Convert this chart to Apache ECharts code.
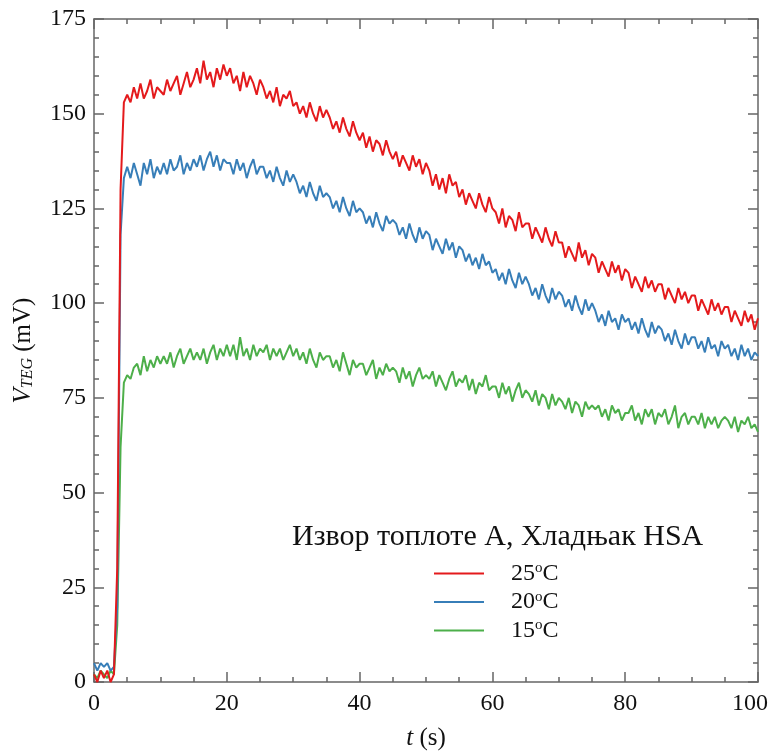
<!DOCTYPE html>
<html>
<head>
<meta charset="utf-8">
<script src="https://cdn.jsdelivr.net/npm/echarts@6/dist/echarts.min.js"></script>
<style>html,body{margin:0;padding:0;background:#fff;}#c{width:773px;height:754px;}</style>
</head>
<body>
<div id="c"></div>
<script>
// sampling step of the recorded series (s)
const sampleStep = 0.5;
const xTicks = [0, 20, 40, 60, 80, 100];
const yTicks = [0, 25, 50, 75, 100, 125, 150, 175];
const seriesNames = ['25', '20', '15'];
const legendTitle = 'Извор топлоте А, Хладњак HSA';

const red25 = [
  2,0,3,1,3,0,2,
  30,130,153,
  155,153,157,154,158,154,156,159,154,157,156,
  155,159,156,158,160,155,158,161,157,159,
  162,158,164,159,161,157,162,159,163,160,
  162,158,160,156,161,157,160,158,155,159,
  157,154,156,153,157,152,155,154,156,152,
  153,150,152,149,153,150,148,152,149,151,
  149,146,148,145,149,146,144,148,145,143,
  145,141,144,140,143,142,139,143,140,138,
  140,136,139,137,135,139,136,138,134,137,
  135,131,134,130,133,129,134,131,132,128,
  130,126,129,127,125,129,126,124,128,125,
  124,121,125,120,123,122,119,124,120,121,
  121,117,120,118,116,120,117,115,119,116,
  116,112,115,113,111,116,112,114,110,113,
  112,108,111,109,107,111,108,110,106,109,
  108,104,107,105,103,107,104,106,103,105,
  105,101,104,102,100,104,101,103,100,102,
  102,98,101,99,97,101,98,100,97,99,
  99,95,98,96,94,98,95,97,93,96
];
const blue20 = [
  5,3,5,4,5,3,4,
  20,118,133,
  136,133,137,134,131,137,134,138,133,136,134,
  137,134,138,135,136,139,134,137,135,138,
  136,139,135,138,140,136,139,135,138,137,
  137,134,138,135,137,133,136,138,134,136,
  136,133,135,132,136,133,131,135,132,134,
  132,129,131,128,132,129,127,131,128,129,
  128,125,127,124,128,125,123,127,124,125,
  124,121,123,120,124,121,119,123,121,122,
  121,118,120,117,121,118,116,120,117,119,
  118,114,117,115,113,117,114,116,112,115,
  114,111,113,110,112,109,113,110,111,108,
  109,106,108,105,109,106,104,108,105,107,
  105,102,104,101,105,102,100,104,101,103,
  102,99,101,98,102,99,97,101,98,100,
  98,95,97,94,98,95,96,93,97,95,
  96,93,95,92,96,93,91,95,92,94,
  93,90,92,89,93,90,88,92,89,91,
  91,88,90,87,91,88,89,86,90,88,
  89,86,88,85,89,86,88,85,87,86
];
const green15 = [
  2,1,3,2,1,3,2,
  15,62,79,
  81,80,83,84,81,86,82,85,83,86,84,
  86,84,87,83,86,88,84,86,88,85,
  87,85,88,84,87,89,85,88,86,89,
  86,89,85,91,86,88,85,89,86,88,
  87,89,85,88,86,88,85,87,89,86,
  88,85,87,84,88,85,83,87,85,86,
  86,83,85,82,87,84,81,85,83,84,
  84,81,83,85,80,83,81,84,82,83,
  82,79,83,80,82,78,81,83,80,81,
  80,82,78,81,79,77,80,82,78,80,
  79,81,77,80,76,79,78,81,77,78,
  78,75,79,76,78,74,77,79,75,77,
  76,74,77,73,76,75,72,76,73,75,
  74,72,75,71,74,73,70,74,72,73,
  72,73,70,72,69,73,71,72,69,71,
  71,73,69,71,68,72,70,72,68,71,
  70,72,68,70,73,67,70,71,68,70,
  70,68,71,67,70,68,70,67,69,70,
  69,67,70,66,69,68,70,67,68,66
];

function pairs(vals) { return vals.map((v, i) => [i * sampleStep, v]); }

const FONT = '"Liberation Serif", "DejaVu Serif", serif';
const colors = ['#e41a1c', '#377eb8', '#4daf4a'];
const axisCol = '#666';

const chart = echarts.init(document.getElementById('c'), null, {renderer: 'canvas'});

function baseAxis(extra) {
  return Object.assign({
    type: 'value',
    axisLine: {show: true, onZero: false, lineStyle: {color: axisCol, width: 1.5}},
    axisTick: {show: true, inside: true, length: 10, lineStyle: {color: axisCol, width: 1.5}},
    splitLine: {show: false},
    minorSplitLine: {show: false}
  }, extra);
}

const xMin = xTicks[0], xMax = xTicks[xTicks.length - 1], xInt = xTicks[1] - xTicks[0];
const yMin = yTicks[0], yMax = yTicks[yTicks.length - 1], yInt = yTicks[1] - yTicks[0];

chart.setOption({
  animation: false,
  backgroundColor: '#fff',
  grid: {left: 94, right: 15, top: 19, bottom: 72, outerBoundsMode: 'none', containLabel: false},
  title: {
    text: legendTitle,
    left: 287, top: 517,
    textStyle: {fontFamily: FONT, fontSize: 30, fontWeight: 'normal', color: '#111'}
  },
  legend: {
    orient: 'vertical',
    left: 429, top: 556,
    itemWidth: 50, itemHeight: 2,
    itemGap: 4,
    icon: 'rect',
    data: seriesNames.map(n => n),
    formatter: n => '{n|' + n + '}{s|o}{n|C}',
    textStyle: {
      fontFamily: FONT, fontSize: 24, color: '#111', padding: [0, 0, 0, 22],
      rich: {
        n: {fontFamily: FONT, fontSize: 24, color: '#111'},
        s: {fontFamily: FONT, fontSize: 15, color: '#111', verticalAlign: 'top', padding: [0, 0, 10, 0]}
      }
    }
  },
  xAxis: [
    baseAxis({
      min: xMin, max: xMax, interval: xInt,
      minorTick: {show: true, splitNumber: 4, length: 5, lineStyle: {color: axisCol, width: 1.5}},
      axisLabel: {
        fontFamily: FONT, fontSize: 24, color: '#111', margin: 10,
        formatter: v => v === xMax ? '{r|' + v + '}' : String(v),
        rich: {r: {fontFamily: FONT, fontSize: 24, color: '#111', padding: [0, 16, 0, 0]}}
      },
      name: '{i|t}{n| (s)}',
      nameLocation: 'middle', nameGap: 44,
      nameTextStyle: {
        rich: {
          i: {fontFamily: FONT, fontSize: 25, fontStyle: 'italic', color: '#111'},
          n: {fontFamily: FONT, fontSize: 25, color: '#111'}
        }
      }
    }),
    baseAxis({
      position: 'top', min: xMin, max: xMax, interval: xInt,
      minorTick: {show: true, splitNumber: 4, length: 5, lineStyle: {color: axisCol, width: 1.5}},
      axisLabel: {show: false}
    })
  ],
  yAxis: [
    baseAxis({
      min: yMin, max: yMax, interval: yInt,
      minorTick: {show: true, splitNumber: 5, length: 5, lineStyle: {color: axisCol, width: 1.5}},
      axisLabel: {fontFamily: FONT, fontSize: 24, color: '#111', margin: 8},
      name: '{i|V}{sub|TEG}{n| (mV)}',
      nameLocation: 'middle', nameGap: 58, nameRotate: 90,
      nameTextStyle: {
        rich: {
          i: {fontFamily: FONT, fontSize: 25, fontStyle: 'italic', color: '#111'},
          sub: {fontFamily: FONT, fontSize: 16, fontStyle: 'italic', color: '#111', verticalAlign: 'bottom', padding: [10, 0, 0, 0]},
          n: {fontFamily: FONT, fontSize: 25, color: '#111'}
        }
      }
    }),
    baseAxis({
      position: 'right', min: yMin, max: yMax, interval: yInt,
      minorTick: {show: true, splitNumber: 5, length: 5, lineStyle: {color: axisCol, width: 1.5}},
      axisLabel: {show: false}
    })
  ],
  series: [
    {name: seriesNames[2], type: 'line', data: pairs(green15), showSymbol: false, color: colors[2], lineStyle: {width: 2}, z: 2},
    {name: seriesNames[1], type: 'line', data: pairs(blue20), showSymbol: false, color: colors[1], lineStyle: {width: 2}, z: 3},
    {name: seriesNames[0], type: 'line', data: pairs(red25), showSymbol: false, color: colors[0], lineStyle: {width: 2}, z: 4}
  ]
});
</script>
</body>
</html>
